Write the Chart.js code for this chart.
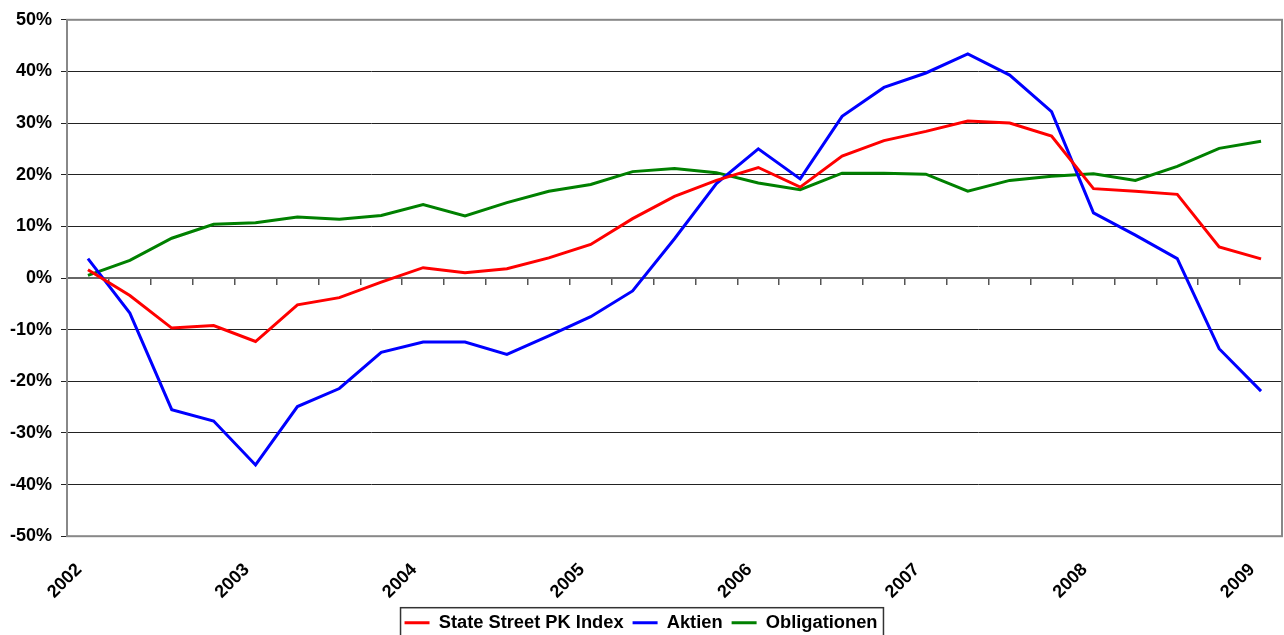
<!DOCTYPE html>
<html>
<head>
<meta charset="utf-8">
<script src="https://cdn.jsdelivr.net/npm/chart.js@4.4.1/dist/chart.umd.min.js"></script>
<style>
  html, body { margin: 0; padding: 0; background: #fff; }
  #wrap { width: 1284px; height: 635px; }
</style>
</head>
<body>
<div id="wrap"><canvas id="chart" width="1284" height="635"></canvas></div>
<script>
// Quarterly observations, Jan 2002 - Jan 2009
const quarters = [
    "01.2002", "04.2002", "07.2002", "10.2002",
    "01.2003", "04.2003", "07.2003", "10.2003",
    "01.2004", "04.2004", "07.2004", "10.2004",
    "01.2005", "04.2005", "07.2005", "10.2005",
    "01.2006", "04.2006", "07.2006", "10.2006",
    "01.2007", "04.2007", "07.2007", "10.2007",
    "01.2008", "04.2008", "07.2008", "10.2008",
    "01.2009",
];
const yearLabels = ["2002", "2003", "2004", "2005", "2006", "2007", "2008", "2009"];

// Values in percent
const stateStreet = [1.6, -3.4, -9.7, -9.2, -12.3, -5.2, -3.8, -0.8, 2.0, 1.0, 1.8, 3.9, 6.5, 11.5, 15.8,
    18.9, 21.4, 17.6, 23.6, 26.6, 28.4, 30.4, 30.0, 27.5, 17.3, 16.8, 16.2, 6.0, 3.7];
const aktien = [3.75, -6.8, -25.5, -27.7, -36.2, -24.9, -21.4, -14.4, -12.4, -12.4, -14.8, -11.2, -7.5, -2.5, 7.6,
    18.3, 25.0, 19.2, 31.3, 36.9, 39.7, 43.4, 39.3, 32.2, 12.6, 8.3, 3.75, -13.7, -21.9];
const obligationen = [0.5, 3.4, 7.7, 10.4, 10.7, 11.8, 11.4, 12.1, 14.2, 12.0, 14.6, 16.8, 18.1, 20.6, 21.2,
    20.4, 18.4, 17.1, 20.3, 20.3, 20.1, 16.8, 18.9, 19.7, 20.2, 18.9, 21.6, 25.1, 26.5];

const yMin = -50;
const yMax = 50;
const yStep = 10;

const FONT = "'Liberation Sans', Arial, sans-serif";

// Frame around the plot area and the legend
const framePlugin = {
    id: "frame",
    beforeDatasetsDraw(chart) {
        const { ctx, chartArea: a } = chart;
        ctx.save();
        ctx.strokeStyle = "#888";
        ctx.lineWidth = 2;
        ctx.strokeRect(a.left, a.top, a.right - a.left, a.bottom - a.top);
        ctx.restore();
    },
    afterDraw(chart) {
        const boxes = chart.legend.legendHitBoxes;
        if (!boxes || !boxes.length) return;
        const first = boxes[0];
        const last = boxes[boxes.length - 1];
        const ctx = chart.ctx;
        ctx.save();
        ctx.strokeStyle = "#333";
        ctx.lineWidth = 1.5;
        const left = first.left - 4;
        const right = last.left + last.width + 6;
        const top = first.top - 6;
        ctx.strokeRect(left, top, right - left, first.height + 20);
        ctx.restore();
    },
};

function lineSet(label, data, color) {
    return {
        label,
        data,
        borderColor: color,
        backgroundColor: color,
        borderWidth: 3,
        pointRadius: 0,
        tension: 0,
        fill: false,
    };
}

new Chart(document.getElementById("chart"), {
    type: "line",
    data: {
        labels: quarters,
        datasets: [
            lineSet("State Street PK Index", stateStreet, "#ff0000"),
            lineSet("Aktien", aktien, "#0000ff"),
            lineSet("Obligationen", obligationen, "#008000"),
        ],
    },
    options: {
        responsive: false,
        animation: false,
        devicePixelRatio: 1,
        layout: { padding: { top: 19, right: 2, left: 0, bottom: -7 } },
        plugins: {
            tooltip: { enabled: false },
            legend: {
                position: "bottom",
                labels: {
                    color: "#000",
                    font: { family: FONT, size: 18.3, weight: "bold" },
                    boxWidth: 25,
                    boxHeight: 3,
                    padding: 9,
                    generateLabels(chart) {
                        return Chart.defaults.plugins.legend.labels.generateLabels(chart)
                            .map((item) => ({ ...item, lineWidth: 0 }));
                    },
                },
            },
        },
        scales: {
            x: {
                type: "category",
                offset: true,
                grid: { display: false, drawTicks: false },
                border: { display: false },
                ticks: {
                    autoSkip: false,
                    minRotation: 45,
                    maxRotation: 45,
                    padding: 23,
                    labelOffset: -9,
                    color: "#000",
                    font: { family: FONT, size: 18, weight: "bold" },
                    callback: (value, index) => (index % 4 === 0 ? yearLabels[index / 4] : ""),
                },
                afterFit(scale) {
                    scale.height = 68.5;
                    scale.paddingLeft = 0;
                    scale.paddingRight = 0;
                },
            },
            x0: {
                type: "category",
                axis: "x",
                position: { y: 0 },
                offset: true,
                grid: { offset: true, drawOnChartArea: false, drawTicks: true, tickLength: 6, color: "#555", lineWidth: 1.5 },
                border: { display: true, color: "#666", width: 2 },
                ticks: { display: false },
                afterFit(scale) {
                    scale.paddingLeft = 0;
                    scale.paddingRight = 0;
                },
            },
            y: {
                min: yMin,
                max: yMax,
                grid: { color: "#222", lineWidth: 1, tickLength: 6 },
                border: { display: true, color: "#444", width: 2 },
                ticks: {
                    stepSize: yStep,
                    padding: 9,
                    color: "#000",
                    font: { family: FONT, size: 18, weight: "bold" },
                    callback: (v) => v + "%",
                },
                afterFit(scale) { scale.width = 67; },
            },
        },
    },
    plugins: [framePlugin],
});
</script>
</body>
</html>
